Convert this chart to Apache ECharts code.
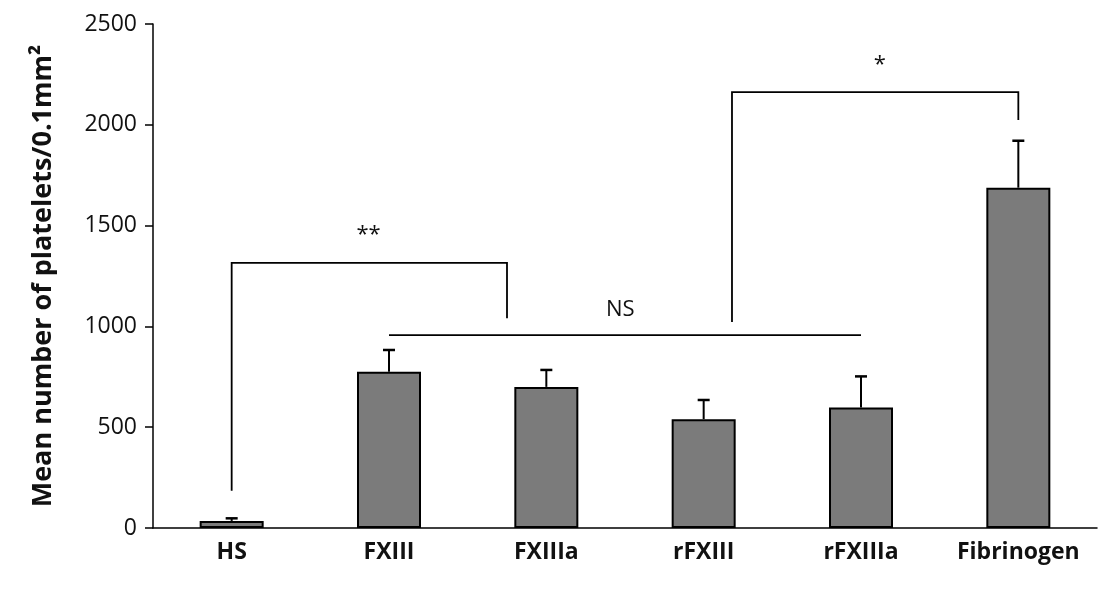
<!DOCTYPE html>
<html>
<head>
<meta charset="utf-8">
<script src="https://cdn.jsdelivr.net/npm/echarts@6/dist/echarts.min.js"></script>
<style>html,body{margin:0;padding:0;background:#fff}#c{width:1098px;height:593px}</style>
</head>
<body>
<div id="c"></div>
<script>
const categories = ['HS', 'FXIII', 'FXIIIa', 'rFXIII', 'rFXIIIa', 'Fibrinogen'];
const means = [35, 775, 700, 540, 598, 1688];
const errTops = [48, 883, 784, 635, 752, 1921];
const yTicks = [0, 500, 1000, 1500, 2000, 2500];
// brackets: [xLeft(cat), xRight(cat), top value, left leg bottom, right leg bottom]
const brackets = [
  [0, 1.75, 1315, 185, 1040],
  [3.18, 5, 2162, 1022, 2024]
];
// horizontal NS line: [xFrom, xTo, value]
const nsLines = [[1, 4, 957]];
// annotation labels: [x(cat), value, text]
const annotations = [[0.87, 1455, '**'], [2.47, 1085, 'NS'], [4.12, 2300, '*']];

const FONT = '"Open Sans", Lato, sans-serif';
const chart = echarts.init(document.getElementById('c'), null, {renderer: 'canvas'});

function px(api, x, v) {
  const i = Math.floor(x);
  const f = x - i;
  const p = api.coord([i, v]);
  const bw = api.size([1, 0])[0];
  return [p[0] + f * bw, p[1]];
}

chart.setOption({
  animation: false,
  backgroundColor: '#ffffff',
  grid: {left: 153, right: 1, top: 24, bottom: 65},
  xAxis: {
    type: 'category',
    data: categories,
    axisLine: {lineStyle: {color: '#000', width: 1.5}},
    axisTick: {show: false},
    axisLabel: {interval: 0, color: '#111', fontFamily: FONT, fontWeight: 'bold', fontSize: 23, margin: 13}
  },
  yAxis: {
    type: 'value',
    min: 0, max: 2500, interval: 500,
    name: 'Mean number of platelets/0.1mm²',
    nameLocation: 'middle',
    nameGap: 96,
    nameTextStyle: {color: '#111', fontFamily: FONT, fontWeight: 'bold', fontSize: 27},
    axisLine: {show: true, lineStyle: {color: '#000', width: 1.5}},
    axisTick: {show: true, length: 8, lineStyle: {color: '#000', width: 1.5}},
    splitLine: {show: false},
    axisLabel: {color: '#111', fontFamily: FONT, fontSize: 23, margin: 16,
      formatter: v => yTicks.includes(v) ? String(v) : ''}
  },
  series: [
    {
      type: 'bar',
      data: means,
      barWidth: 64,
      itemStyle: {color: '#7b7b7b', borderColor: '#000', borderWidth: 2},
      z: 2
    },
    {
      type: 'custom',
      data: means.map((m, i) => [i, m, errTops[i]]),
      z: 3,
      renderItem: (params, api) => {
        const b = api.coord([api.value(0), api.value(1)]);
        const t = api.coord([api.value(0), api.value(2)]);
        const cap = 6;
        return {type: 'group', children: [
          {type: 'line', shape: {x1: b[0], y1: b[1], x2: t[0], y2: t[1]}, style: {stroke: '#000', lineWidth: 2}},
          {type: 'line', shape: {x1: t[0] - cap, y1: t[1], x2: t[0] + cap, y2: t[1]}, style: {stroke: '#000', lineWidth: 2.5}}
        ]};
      }
    },
    {
      type: 'custom',
      data: brackets,
      z: 4,
      renderItem: (params, api) => {
        const xl = api.value(0), xr = api.value(1), top = api.value(2), lb = api.value(3), rb = api.value(4);
        const a = px(api, xl, lb), b = px(api, xl, top), c = px(api, xr, top), d = px(api, xr, rb);
        return {type: 'polyline', shape: {points: [a, b, c, d]}, style: {stroke: '#000', lineWidth: 1.8, fill: null}};
      }
    },
    {
      type: 'custom',
      data: nsLines,
      z: 4,
      renderItem: (params, api) => {
        const a = px(api, api.value(0), api.value(2)), b = px(api, api.value(1), api.value(2));
        return {type: 'line', shape: {x1: a[0], y1: a[1], x2: b[0], y2: b[1]}, style: {stroke: '#000', lineWidth: 1.8}};
      }
    },
    {
      type: 'custom',
      data: annotations,
      z: 5,
      renderItem: (params, api) => {
        const p = px(api, api.value(0), api.value(1));
        const txt = annotations[params.dataIndex][2];
        return {type: 'text', x: p[0], y: p[1], style: {text: txt, fill: '#111', fontFamily: FONT, fontSize: 22, align: 'center', verticalAlign: 'middle'}};
      }
    }
  ]
});
</script>
</body>
</html>
